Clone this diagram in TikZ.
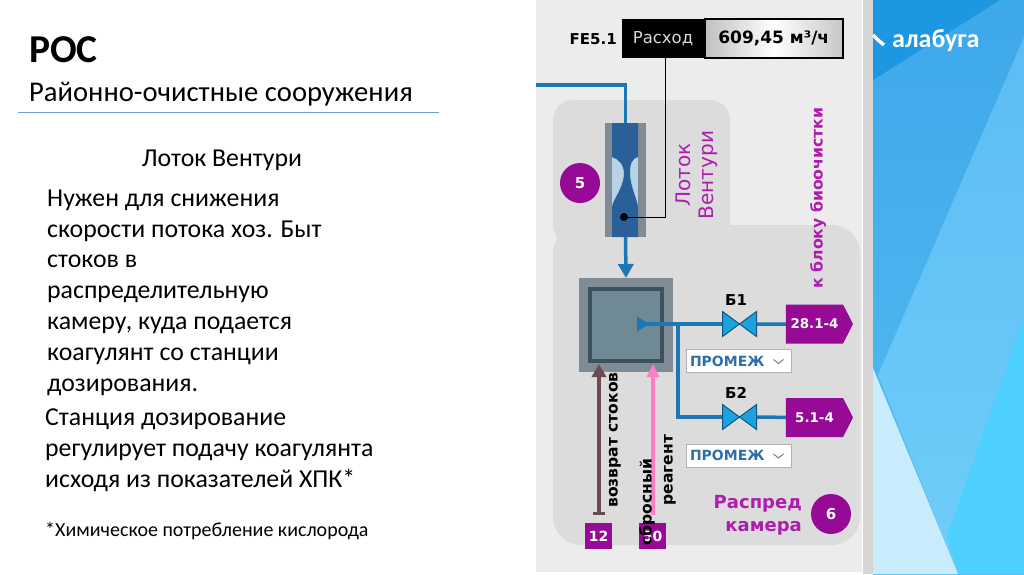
\documentclass[tikz,border=0pt]{standalone}
\usepackage{fontspec}
\setmainfont{Carlito}
\newfontfamily\scadafont{DejaVu Sans}
\usepackage{xcolor}
\usetikzlibrary{arrows.meta,shapes.symbols,calc}
\definecolor{panelgray}{HTML}{ECECEC}
\definecolor{zonegray}{HTML}{DCDCDC}
\definecolor{stripgray}{HTML}{D6D6D6}
\definecolor{steelgray}{HTML}{7F8C96}
\definecolor{chamber}{HTML}{6F8995}
\definecolor{chamberedge}{HTML}{3D525C}
\definecolor{darkblue}{HTML}{2B5F99}
\definecolor{paleblue}{HTML}{B7D3E6}
\definecolor{pipeblue}{HTML}{1C78B5}
\definecolor{valveblue}{HTML}{1AA3DF}
\definecolor{darkpurple}{HTML}{960A96}
\definecolor{textpurple}{HTML}{AE1CB0}
\definecolor{brownline}{HTML}{6B4A55}
\definecolor{pinkline}{HTML}{FF7CC8}
\definecolor{titlerule}{HTML}{6F9BD8}
\definecolor{linkblue}{HTML}{2F6FA8}
\definecolor{skyA}{HTML}{1D97E2}
\definecolor{skyB}{HTML}{3DA8EA}
\definecolor{skyBlow}{HTML}{55BCF2}
\definecolor{skyC}{HTML}{5CBDF3}
\definecolor{skyClow}{HTML}{70CDFA}
\definecolor{skyD}{HTML}{4DD0FB}
\definecolor{skyE}{HTML}{C9ECFD}
\tikzset{
  pipe/.style={line width=3.5pt, pipeblue},
  badge/.style={circle, fill=darkpurple, text=white, minimum size=40pt, inner sep=0pt, font=\scadafont\fontsize{15}{15}\selectfont\bfseries},
  tag/.style={signal, signal to=east, signal pointer angle=126, fill=darkpurple, text=white, minimum width=67pt, minimum height=39pt, inner sep=0pt, outer sep=0pt, font=\scadafont\fontsize{13.4}{14}\selectfont\bfseries},
  squaretag/.style={fill=darkpurple, text=white, minimum width=27pt, minimum height=26pt, inner sep=0pt, font=\scadafont\fontsize{14}{14}\selectfont\bfseries},
  valvebox/.style={minimum width=34pt, minimum height=25pt, inner sep=0pt, outer sep=0pt},
  dropbox/.style={draw=black!30, fill=white, line width=1pt, text width=97pt, minimum height=23pt, inner xsep=4pt, inner ysep=0pt, align=left, text=linkblue, font=\scadafont\fontsize{14}{15}\selectfont\bfseries},
  rotlabel/.style={rotate=90, inner sep=0pt, font=\scadafont\fontsize{15.5}{16}\selectfont\bfseries},
  purplelabel/.style={rotate=90, inner sep=0pt, text=textpurple, font=\scadafont\fontsize{20}{20}\selectfont},
  bodytext/.style={anchor=north west, inner sep=0pt, align=left, font=\fontsize{25.8}{30.8}\selectfont}
}
\newcommand{\valveshape}[1]{\draw[fill=valveblue, draw=pipeblue!70!black, line width=1pt] (#1.north west) -- (#1.south east) -- (#1.north east) -- (#1.south west) -- cycle;}
\newcommand{\dropmark}[1]{\draw[gray, line width=1pt] ([xshift=-18pt,yshift=1.5pt]#1.east) -- ++(5,4) -- ++(5,-4);}
\begin{document}
\begin{tikzpicture}[x=1pt, y=-1pt]
    \useasboundingbox (0,0) rectangle (1024,574);

    % Фон
    \fill[white] (0,0) rectangle (1024,574);
    \fill[panelgray] (536,0) rectangle (862,572);
    \fill[stripgray] (863,0) rectangle (873,574);
    \shade[top color=skyB, bottom color=skyBlow] (873,0) rectangle (1024,574);
    \fill[skyA] (873,80) -- (1000,0) -- (873,0) -- cycle;
    \shade[top color=skyC, bottom color=skyClow] (1024,37) -- (878,375) -- (958,574) -- (1024,574) -- cycle;
    \fill[skyD] (1024,317) -- (947,537) -- (958,574) -- (1024,574) -- cycle;
    \fill[skyE] (873,368) -- (958,574) -- (873,574) -- cycle;

    % Логотип
    \draw[white, line width=3.5pt] (873,35) -- (878,40) -- (884,45);
    \node[text=white, anchor=west, inner sep=0pt, font=\fontsize{26}{26}\selectfont\bfseries] (logo) at (892,41) {алабуга};

    % Заголовок
    \node[anchor=base west, inner sep=0pt, font=\fontsize{39.5}{40}\selectfont\bfseries] (title) at (29,62) {РОС};
    \node[anchor=base west, inner sep=0pt, font=\fontsize{28.6}{29}\selectfont] (subtitle) at (29,101) {Районно-очистные сооружения};
    \draw[titlerule, line width=1.3pt] (18,112.5) -- (439,112.5);
    \node[anchor=base, inner sep=0pt, font=\fontsize{25.8}{26}\selectfont] (heading) at (222,166) {Лоток Вентури};

    % Текст
    \node[bodytext] (bodyA) at (47,189.5) {Нужен для снижения\\скорости потока хоз. Быт\\стоков в\\распределительную\\камеру, куда подается\\коагулянт со станции\\дозирования.};
    \node[bodytext] (bodyB) at (45,408.5) {Станция дозирование\\регулирует подачу коагулянта\\исходя из показателей ХПК*};
    \node[anchor=base west, inner sep=0pt, font=\fontsize{20}{20}\selectfont] (note) at (45,536) {*Химическое потребление кислорода};

    % Зоны
    \fill[zonegray, rounded corners=20pt] (553,100) rectangle (730,245);
    \fill[zonegray, rounded corners=28pt] (553,225) rectangle (860,545);

    % Лоток Вентури
    \node[fill=steelgray, minimum width=41pt, minimum height=114pt, inner sep=0pt, outer sep=0pt] (venturi) at (625.5,180) {};
    \fill[paleblue] (612,123) rectangle (638,237);
    \fill[darkblue] (612,123) -- (638,123) -- (638,157) .. controls (631,159) and (630,165) .. (630,174) .. controls (631,190) and (638,200) .. (638,208) -- (638,237) -- (612,237) -- (612,208) .. controls (612,200) and (623,190) .. (624,174) .. controls (624,165) and (619,159) .. (612,157) -- cycle;

    % Расходомер
    \node[anchor=north west, fill=black, text=black!15, minimum width=82pt, minimum height=39pt, inner sep=0pt, outer sep=0pt, font=\scadafont\fontsize{16.5}{17}\selectfont] (flowname) at (622,19) {Расход};
    \node[anchor=west, draw=black, line width=1.5pt, left color=black!25, right color=black!22, middle color=white, minimum width=138pt, minimum height=39pt, inner sep=0pt, font=\scadafont\fontsize{17}{17}\selectfont\bfseries] (flowvalue) at (flowname.east) {609,45 м³/ч};
    \node[anchor=east, inner sep=0pt, font=\scadafont\fontsize{15}{15}\selectfont\bfseries] (sensor) at (617,39) {FE5.1};
    \coordinate (tap) at (624,217);
    \draw[black, line width=1pt] (flowname.south -| 665,0) |- (tap);
    \fill[black] (tap) circle (4pt);

    % Камера
    \node[fill=steelgray, minimum size=94pt, inner sep=0pt, outer sep=0pt] (chamberbox) at (626,325) {};
    \node[fill=chamber, draw=chamberedge, line width=3.5pt, minimum size=72pt, inner sep=0pt] (chamberin) at (626,325) {};

    % Трубы
    \coordinate (inlet) at (536,85);
    \draw[pipe] (inlet) -| (venturi.north);
    \draw[pipe, -{Triangle[width=15pt,length=14pt]}] (venturi.south) -- (chamberbox.north);

    % Задвижки
    \node[valvebox] (valveA) at (739.5,324) {};
    \node[valvebox] (valveB) at (739.5,417) {};
    \node[tag] (tagA) at (814.5,324) {28.1-4};
    \node[tag] (tagB) at (814.5,417.5) {5.1-4};
    \coordinate (outlet) at (637,324);
    \coordinate (branch) at (678,324);
    \draw[pipe, {Triangle[width=14pt,length=13pt,reversed]}-] (outlet) -- (valveA);
    \draw[pipe] (branch) |- (valveB);
    \draw[pipe] (valveA) -- (tagA);
    \draw[pipe] (valveB) -- (tagB);
    \valveshape{valveA}
    \valveshape{valveB}
    \node[inner sep=0pt, font=\scadafont\fontsize{15}{15}\selectfont\bfseries] (labelA) at (736,300) {Б1};
    \node[inner sep=0pt, font=\scadafont\fontsize{15}{15}\selectfont\bfseries] (labelB) at (736,393) {Б2};

    % Списки
    \node[dropbox] (dropA) at (738.5,361) {ПРОМЕЖ};
    \node[dropbox] (dropB) at (738.5,455.5) {ПРОМЕЖ};
    \dropmark{dropA}
    \dropmark{dropB}

    % Возврат и реагент
    \node[squaretag] (tagreturn) at (598.5,536) {12};
    \node[squaretag] (tagreagent) at (652.5,536) {50};
    \coordinate (returnend) at (599,515);
    \coordinate (returnin) at (599,364);
    \coordinate (reagentend) at (653,515);
    \coordinate (reagentin) at (653,364);
    \draw[brownline, line width=3.5pt, {Bar[width=12pt]}-{Triangle[width=14pt,length=13pt]}] (returnend) -- (returnin);
    \draw[pinkline, line width=3.5pt, -{Triangle[width=12pt,length=13pt]}] (reagentend) -- (reagentin);
    \node[rotlabel] (returntext) at (615,440) {возврат стоков};
    \node[rotlabel] (reagentA) at (647,502) {сбросный};
    \node[rotlabel] (reagentB) at (670,470) {реагент};

    % Подписи
    \node[badge] (badgeA) at (580,183) {5};
    \node[badge] (badgeB) at (831,514) {6};
    \node[purplelabel] (lotok) at (683,175) {Лоток};
    \node[purplelabel] (venturitext) at (708,175) {Вентури};
    \node[purplelabel, font=\scadafont\fontsize{15.7}{16}\selectfont\bfseries] (bio) at (818,198) {к блоку биоочистки};
    \node[anchor=east, inner sep=0pt, align=right, text=textpurple, font=\scadafont\fontsize{18}{23}\selectfont\bfseries] (chambertext) at (802,515) {Распред\\камера};
\end{tikzpicture}
\end{document}
